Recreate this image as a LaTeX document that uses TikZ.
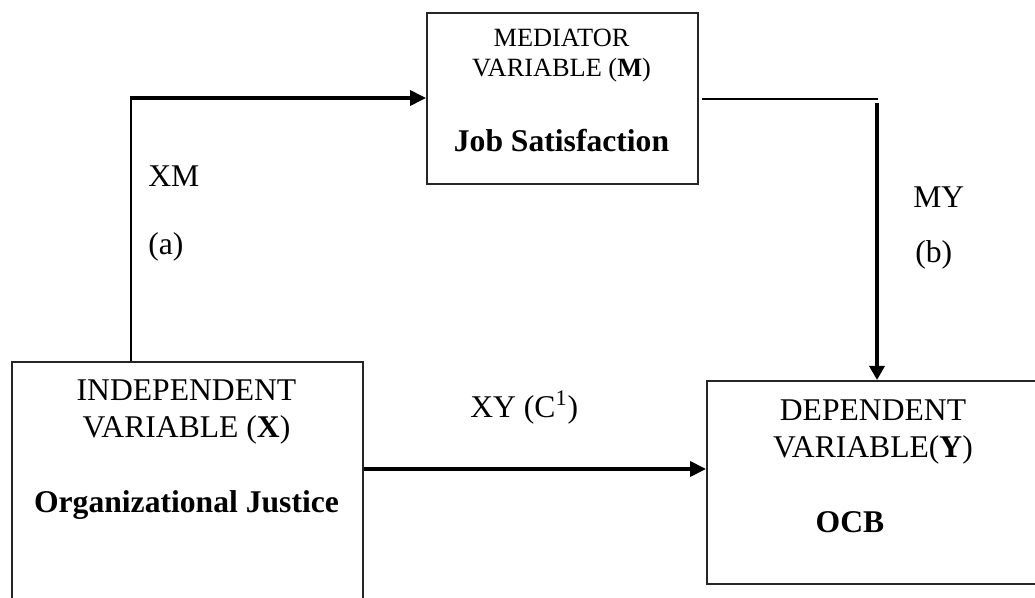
\documentclass[tikz,border=0pt]{standalone}
\usepackage{fontspec}
\setmainfont{Liberation Serif}
\usetikzlibrary{arrows.meta}

\begin{document}
\begin{tikzpicture}[x=0.02cm,y=-0.02cm,every text node part/.style={align=center},
varbox/.style={draw=black!85,line width=0.9pt,anchor=north west,inner sep=0pt},
bigtxt/.style={font=\fontsize{18}{21}\selectfont,anchor=base,inner sep=0pt},
smalltxt/.style={font=\fontsize{15}{17.2}\selectfont,anchor=base,inner sep=0pt},
lbl/.style={font=\fontsize{18}{21}\selectfont,anchor=base west,inner sep=0pt},
thinline/.style={line width=1.1pt},
thickarrow/.style={line width=1.9pt,-{Triangle[length=9pt,width=8.5pt]}}]
\clip (0,0) rectangle (1035,598);
\useasboundingbox (0,0) rectangle (1035,598);
% boxes
\node [varbox,minimum width=5.42cm,minimum height=3.42cm] (med) at (426,12) {};
\node [varbox,minimum width=7.02cm,minimum height=5.6cm] (indep) at (11,361) {};
\node [varbox,minimum width=7.1cm,minimum height=4.06cm] (dep) at (706,380) {};
% texts in the boxes (base = last line)
\node [smalltxt] (medhead) at (561.5,77) {MEDIATOR\\VARIABLE (\textbf{M})};
\node [bigtxt] (medname) at (561.5,152) {\textbf{Job Satisfaction}};
\node [bigtxt] (indephead) at (186.5,437) {INDEPENDENT\\VARIABLE (\textbf{X})};
\node [bigtxt] (indepname) at (186.5,512) {\textbf{Organizational Justice}};
\node [bigtxt] (dephead) at (873,457) {DEPENDENT\\VARIABLE(\textbf{Y})};
\node [bigtxt] (depname) at (850,532) {\textbf{OCB}};
% paths
\coordinate (xmbend) at (131,98);
\coordinate (mybend) at (878,99);
\coordinate (mystart) at (877,103);
\coordinate (xyrow) at (0,469);
\draw [thinline] (xmbend |- indep.north) -- (xmbend);
\draw [thickarrow] ([xshift=-0.5pt]xmbend) -- (xmbend -| med.west);
\draw [thinline] (702,99) -- (mybend);
\draw [line width=2.3pt,-{Triangle[length=8pt,width=8.5pt]}] (mystart) -- (mystart |- dep.north);
\draw [line width=2pt,-{Triangle[length=9pt,width=8.5pt]}] (indep.east |- xyrow) -- (dep.west |- xyrow);
% path labels
\node [lbl] (xm) at (148,187) {XM};
\node [lbl] (xma) at (148,255) {(a)};
\node [lbl] (my) at (913,207) {MY};
\node [lbl] (myb) at (915,262) {(b)};
\node [lbl] (xy) at (470,417) {XY (C\textsuperscript{1})};
\end{tikzpicture}
\end{document}
